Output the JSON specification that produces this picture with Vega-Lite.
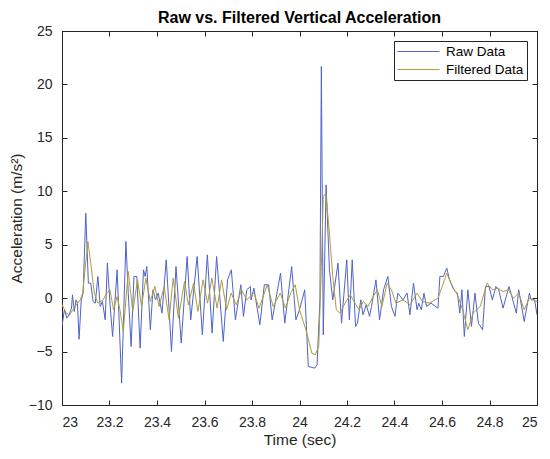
{
  "$schema": "https://vega.github.io/schema/vega-lite/v6.json",
  "autosize": "none",
  "width": 475,
  "height": 374,
  "padding": {"left": 62, "top": 31, "right": 13, "bottom": 54},
  "background": "white",
  "title": {
    "text": "Raw vs. Filtered Vertical Acceleration",
    "font": "Liberation Sans",
    "fontSize": 16,
    "fontWeight": "bold",
    "color": "#000000",
    "anchor": "middle",
    "offset": -2
  },
  "config": {
    "view": {"stroke": "#262626", "strokeWidth": 1},
    "axis": {
      "labelFont": "Liberation Sans",
      "titleFont": "Liberation Sans",
      "labelFontSize": 14,
      "titleFontSize": 15.5,
      "titleFontWeight": "normal",
      "labelColor": "#262626",
      "titleColor": "#262626",
      "domainColor": "#262626",
      "tickColor": "#262626",
      "grid": false,
      "tickSize": -5,
      "labelPadding": 15
    }
  },
  "data": {
    "values": [
      {"t": 23.000, "a": -2.65, "s": "Raw Data"},
      {"t": 23.010, "a": -1.09, "s": "Raw Data"},
      {"t": 23.021, "a": -1.87, "s": "Raw Data"},
      {"t": 23.030, "a": -1.56, "s": "Raw Data"},
      {"t": 23.040, "a": -0.94, "s": "Raw Data"},
      {"t": 23.044, "a": 0.31, "s": "Raw Data"},
      {"t": 23.052, "a": -1.25, "s": "Raw Data"},
      {"t": 23.059, "a": -0.16, "s": "Raw Data"},
      {"t": 23.065, "a": -0.47, "s": "Raw Data"},
      {"t": 23.072, "a": -3.84, "s": "Raw Data"},
      {"t": 23.081, "a": -0.16, "s": "Raw Data"},
      {"t": 23.089, "a": 0.47, "s": "Raw Data"},
      {"t": 23.100, "a": 7.95, "s": "Raw Data"},
      {"t": 23.111, "a": 1.40, "s": "Raw Data"},
      {"t": 23.121, "a": 1.40, "s": "Raw Data"},
      {"t": 23.131, "a": -0.31, "s": "Raw Data"},
      {"t": 23.140, "a": -0.47, "s": "Raw Data"},
      {"t": 23.151, "a": 2.03, "s": "Raw Data"},
      {"t": 23.161, "a": -0.78, "s": "Raw Data"},
      {"t": 23.170, "a": -0.31, "s": "Raw Data"},
      {"t": 23.182, "a": -2.03, "s": "Raw Data"},
      {"t": 23.191, "a": 3.28, "s": "Raw Data"},
      {"t": 23.202, "a": -0.47, "s": "Raw Data"},
      {"t": 23.213, "a": -3.59, "s": "Raw Data"},
      {"t": 23.232, "a": 2.65, "s": "Raw Data"},
      {"t": 23.251, "a": -7.95, "s": "Raw Data"},
      {"t": 23.269, "a": 5.30, "s": "Raw Data"},
      {"t": 23.279, "a": 0.47, "s": "Raw Data"},
      {"t": 23.291, "a": -4.52, "s": "Raw Data"},
      {"t": 23.303, "a": 2.03, "s": "Raw Data"},
      {"t": 23.315, "a": 2.03, "s": "Raw Data"},
      {"t": 23.329, "a": -4.68, "s": "Raw Data"},
      {"t": 23.343, "a": 2.65, "s": "Raw Data"},
      {"t": 23.350, "a": 2.03, "s": "Raw Data"},
      {"t": 23.357, "a": 2.96, "s": "Raw Data"},
      {"t": 23.372, "a": -2.96, "s": "Raw Data"},
      {"t": 23.383, "a": 0.78, "s": "Raw Data"},
      {"t": 23.394, "a": -0.16, "s": "Raw Data"},
      {"t": 23.405, "a": 0.47, "s": "Raw Data"},
      {"t": 23.421, "a": -1.40, "s": "Raw Data"},
      {"t": 23.439, "a": 3.59, "s": "Raw Data"},
      {"t": 23.461, "a": -4.99, "s": "Raw Data"},
      {"t": 23.480, "a": 2.96, "s": "Raw Data"},
      {"t": 23.502, "a": -4.21, "s": "Raw Data"},
      {"t": 23.527, "a": 3.90, "s": "Raw Data"},
      {"t": 23.542, "a": -2.03, "s": "Raw Data"},
      {"t": 23.569, "a": 3.90, "s": "Raw Data"},
      {"t": 23.591, "a": -3.43, "s": "Raw Data"},
      {"t": 23.612, "a": 4.05, "s": "Raw Data"},
      {"t": 23.632, "a": -3.27, "s": "Raw Data"},
      {"t": 23.651, "a": 3.90, "s": "Raw Data"},
      {"t": 23.679, "a": -4.05, "s": "Raw Data"},
      {"t": 23.697, "a": 1.71, "s": "Raw Data"},
      {"t": 23.713, "a": 2.65, "s": "Raw Data"},
      {"t": 23.730, "a": -2.03, "s": "Raw Data"},
      {"t": 23.753, "a": 1.25, "s": "Raw Data"},
      {"t": 23.764, "a": -1.71, "s": "Raw Data"},
      {"t": 23.778, "a": 0.78, "s": "Raw Data"},
      {"t": 23.793, "a": 1.09, "s": "Raw Data"},
      {"t": 23.796, "a": -0.16, "s": "Raw Data"},
      {"t": 23.808, "a": 0.94, "s": "Raw Data"},
      {"t": 23.833, "a": -2.49, "s": "Raw Data"},
      {"t": 23.852, "a": 1.25, "s": "Raw Data"},
      {"t": 23.870, "a": 1.25, "s": "Raw Data"},
      {"t": 23.885, "a": -2.03, "s": "Raw Data"},
      {"t": 23.920, "a": 2.34, "s": "Raw Data"},
      {"t": 23.938, "a": -2.34, "s": "Raw Data"},
      {"t": 23.967, "a": 2.96, "s": "Raw Data"},
      {"t": 23.985, "a": -2.03, "s": "Raw Data"},
      {"t": 24.000, "a": -1.09, "s": "Raw Data"},
      {"t": 24.022, "a": 0.78, "s": "Raw Data"},
      {"t": 24.037, "a": -6.39, "s": "Raw Data"},
      {"t": 24.064, "a": -6.55, "s": "Raw Data"},
      {"t": 24.074, "a": -6.24, "s": "Raw Data"},
      {"t": 24.086, "a": -0.16, "s": "Raw Data"},
      {"t": 24.092, "a": 21.68, "s": "Raw Data"},
      {"t": 24.100, "a": -3.43, "s": "Raw Data"},
      {"t": 24.112, "a": 10.60, "s": "Raw Data"},
      {"t": 24.126, "a": 2.65, "s": "Raw Data"},
      {"t": 24.140, "a": -0.16, "s": "Raw Data"},
      {"t": 24.162, "a": 3.28, "s": "Raw Data"},
      {"t": 24.177, "a": -2.34, "s": "Raw Data"},
      {"t": 24.199, "a": 3.59, "s": "Raw Data"},
      {"t": 24.210, "a": -2.03, "s": "Raw Data"},
      {"t": 24.222, "a": 3.59, "s": "Raw Data"},
      {"t": 24.236, "a": -2.65, "s": "Raw Data"},
      {"t": 24.244, "a": -2.34, "s": "Raw Data"},
      {"t": 24.258, "a": -0.16, "s": "Raw Data"},
      {"t": 24.267, "a": -1.56, "s": "Raw Data"},
      {"t": 24.281, "a": -0.62, "s": "Raw Data"},
      {"t": 24.295, "a": -1.71, "s": "Raw Data"},
      {"t": 24.303, "a": -0.78, "s": "Raw Data"},
      {"t": 24.322, "a": 1.71, "s": "Raw Data"},
      {"t": 24.337, "a": -2.03, "s": "Raw Data"},
      {"t": 24.354, "a": 0.78, "s": "Raw Data"},
      {"t": 24.372, "a": 2.03, "s": "Raw Data"},
      {"t": 24.387, "a": -0.78, "s": "Raw Data"},
      {"t": 24.402, "a": -1.71, "s": "Raw Data"},
      {"t": 24.414, "a": 0.47, "s": "Raw Data"},
      {"t": 24.436, "a": -0.16, "s": "Raw Data"},
      {"t": 24.453, "a": 0.47, "s": "Raw Data"},
      {"t": 24.465, "a": -1.56, "s": "Raw Data"},
      {"t": 24.480, "a": 1.40, "s": "Raw Data"},
      {"t": 24.495, "a": -1.09, "s": "Raw Data"},
      {"t": 24.502, "a": -0.47, "s": "Raw Data"},
      {"t": 24.513, "a": -1.09, "s": "Raw Data"},
      {"t": 24.524, "a": 0.47, "s": "Raw Data"},
      {"t": 24.535, "a": -0.78, "s": "Raw Data"},
      {"t": 24.554, "a": -0.47, "s": "Raw Data"},
      {"t": 24.583, "a": -0.94, "s": "Raw Data"},
      {"t": 24.591, "a": 2.03, "s": "Raw Data"},
      {"t": 24.606, "a": 2.03, "s": "Raw Data"},
      {"t": 24.620, "a": 2.81, "s": "Raw Data"},
      {"t": 24.632, "a": 1.71, "s": "Raw Data"},
      {"t": 24.650, "a": 0.78, "s": "Raw Data"},
      {"t": 24.665, "a": 0.47, "s": "Raw Data"},
      {"t": 24.675, "a": -1.40, "s": "Raw Data"},
      {"t": 24.684, "a": 0.78, "s": "Raw Data"},
      {"t": 24.694, "a": -3.59, "s": "Raw Data"},
      {"t": 24.709, "a": 0.78, "s": "Raw Data"},
      {"t": 24.724, "a": -2.65, "s": "Raw Data"},
      {"t": 24.739, "a": 0.47, "s": "Raw Data"},
      {"t": 24.753, "a": -2.34, "s": "Raw Data"},
      {"t": 24.771, "a": -2.96, "s": "Raw Data"},
      {"t": 24.783, "a": 1.09, "s": "Raw Data"},
      {"t": 24.798, "a": 1.09, "s": "Raw Data"},
      {"t": 24.812, "a": -0.16, "s": "Raw Data"},
      {"t": 24.827, "a": 1.09, "s": "Raw Data"},
      {"t": 24.839, "a": 0.78, "s": "Raw Data"},
      {"t": 24.857, "a": -0.94, "s": "Raw Data"},
      {"t": 24.882, "a": 1.09, "s": "Raw Data"},
      {"t": 24.894, "a": 0.16, "s": "Raw Data"},
      {"t": 24.913, "a": -1.40, "s": "Raw Data"},
      {"t": 24.923, "a": 0.78, "s": "Raw Data"},
      {"t": 24.946, "a": -2.18, "s": "Raw Data"},
      {"t": 24.968, "a": 0.47, "s": "Raw Data"},
      {"t": 24.975, "a": -0.16, "s": "Raw Data"},
      {"t": 24.990, "a": -0.16, "s": "Raw Data"},
      {"t": 25.000, "a": -1.56, "s": "Raw Data"},
      {"t": 23.000, "a": -0.62, "s": "Filtered Data"},
      {"t": 23.018, "a": -1.40, "s": "Filtered Data"},
      {"t": 23.032, "a": -1.56, "s": "Filtered Data"},
      {"t": 23.055, "a": -0.78, "s": "Filtered Data"},
      {"t": 23.077, "a": -0.16, "s": "Filtered Data"},
      {"t": 23.087, "a": 0.47, "s": "Filtered Data"},
      {"t": 23.109, "a": 5.30, "s": "Filtered Data"},
      {"t": 23.121, "a": 3.28, "s": "Filtered Data"},
      {"t": 23.136, "a": 0.47, "s": "Filtered Data"},
      {"t": 23.151, "a": -0.47, "s": "Filtered Data"},
      {"t": 23.173, "a": -0.16, "s": "Filtered Data"},
      {"t": 23.188, "a": 0.47, "s": "Filtered Data"},
      {"t": 23.202, "a": 0.78, "s": "Filtered Data"},
      {"t": 23.217, "a": -1.09, "s": "Filtered Data"},
      {"t": 23.232, "a": 0.16, "s": "Filtered Data"},
      {"t": 23.244, "a": -1.09, "s": "Filtered Data"},
      {"t": 23.258, "a": -3.12, "s": "Filtered Data"},
      {"t": 23.279, "a": 2.50, "s": "Filtered Data"},
      {"t": 23.298, "a": -1.25, "s": "Filtered Data"},
      {"t": 23.318, "a": 1.71, "s": "Filtered Data"},
      {"t": 23.335, "a": -0.78, "s": "Filtered Data"},
      {"t": 23.353, "a": 1.87, "s": "Filtered Data"},
      {"t": 23.372, "a": -0.31, "s": "Filtered Data"},
      {"t": 23.391, "a": 1.09, "s": "Filtered Data"},
      {"t": 23.409, "a": -0.78, "s": "Filtered Data"},
      {"t": 23.430, "a": 1.09, "s": "Filtered Data"},
      {"t": 23.451, "a": -2.03, "s": "Filtered Data"},
      {"t": 23.468, "a": 1.87, "s": "Filtered Data"},
      {"t": 23.490, "a": -1.87, "s": "Filtered Data"},
      {"t": 23.516, "a": 1.56, "s": "Filtered Data"},
      {"t": 23.532, "a": -0.62, "s": "Filtered Data"},
      {"t": 23.554, "a": 1.40, "s": "Filtered Data"},
      {"t": 23.572, "a": -1.25, "s": "Filtered Data"},
      {"t": 23.594, "a": 1.71, "s": "Filtered Data"},
      {"t": 23.613, "a": -0.47, "s": "Filtered Data"},
      {"t": 23.631, "a": 1.87, "s": "Filtered Data"},
      {"t": 23.653, "a": -0.94, "s": "Filtered Data"},
      {"t": 23.672, "a": 1.71, "s": "Filtered Data"},
      {"t": 23.693, "a": -1.09, "s": "Filtered Data"},
      {"t": 23.712, "a": 0.47, "s": "Filtered Data"},
      {"t": 23.734, "a": -0.62, "s": "Filtered Data"},
      {"t": 23.756, "a": 0.78, "s": "Filtered Data"},
      {"t": 23.778, "a": -0.16, "s": "Filtered Data"},
      {"t": 23.808, "a": 0.47, "s": "Filtered Data"},
      {"t": 23.830, "a": -0.94, "s": "Filtered Data"},
      {"t": 23.864, "a": 1.25, "s": "Filtered Data"},
      {"t": 23.889, "a": -0.78, "s": "Filtered Data"},
      {"t": 23.919, "a": 0.47, "s": "Filtered Data"},
      {"t": 23.941, "a": -0.94, "s": "Filtered Data"},
      {"t": 23.963, "a": 0.47, "s": "Filtered Data"},
      {"t": 23.982, "a": 1.25, "s": "Filtered Data"},
      {"t": 24.000, "a": -1.09, "s": "Filtered Data"},
      {"t": 24.027, "a": -2.96, "s": "Filtered Data"},
      {"t": 24.052, "a": -5.15, "s": "Filtered Data"},
      {"t": 24.066, "a": -5.30, "s": "Filtered Data"},
      {"t": 24.081, "a": -4.52, "s": "Filtered Data"},
      {"t": 24.092, "a": 2.96, "s": "Filtered Data"},
      {"t": 24.100, "a": 9.51, "s": "Filtered Data"},
      {"t": 24.111, "a": 9.83, "s": "Filtered Data"},
      {"t": 24.126, "a": 6.08, "s": "Filtered Data"},
      {"t": 24.140, "a": 2.03, "s": "Filtered Data"},
      {"t": 24.155, "a": -1.09, "s": "Filtered Data"},
      {"t": 24.170, "a": -1.40, "s": "Filtered Data"},
      {"t": 24.192, "a": -0.47, "s": "Filtered Data"},
      {"t": 24.214, "a": 0.31, "s": "Filtered Data"},
      {"t": 24.229, "a": -0.31, "s": "Filtered Data"},
      {"t": 24.251, "a": -1.09, "s": "Filtered Data"},
      {"t": 24.269, "a": -0.31, "s": "Filtered Data"},
      {"t": 24.288, "a": -0.78, "s": "Filtered Data"},
      {"t": 24.310, "a": 0.16, "s": "Filtered Data"},
      {"t": 24.328, "a": 0.78, "s": "Filtered Data"},
      {"t": 24.347, "a": -0.78, "s": "Filtered Data"},
      {"t": 24.369, "a": 1.40, "s": "Filtered Data"},
      {"t": 24.387, "a": 0.78, "s": "Filtered Data"},
      {"t": 24.406, "a": -0.47, "s": "Filtered Data"},
      {"t": 24.436, "a": -0.16, "s": "Filtered Data"},
      {"t": 24.465, "a": -0.62, "s": "Filtered Data"},
      {"t": 24.495, "a": 0.47, "s": "Filtered Data"},
      {"t": 24.517, "a": -0.31, "s": "Filtered Data"},
      {"t": 24.547, "a": -0.47, "s": "Filtered Data"},
      {"t": 24.583, "a": 0.00, "s": "Filtered Data"},
      {"t": 24.606, "a": 1.40, "s": "Filtered Data"},
      {"t": 24.620, "a": 2.34, "s": "Filtered Data"},
      {"t": 24.643, "a": 1.09, "s": "Filtered Data"},
      {"t": 24.665, "a": 0.31, "s": "Filtered Data"},
      {"t": 24.687, "a": -1.09, "s": "Filtered Data"},
      {"t": 24.709, "a": -2.96, "s": "Filtered Data"},
      {"t": 24.731, "a": -1.40, "s": "Filtered Data"},
      {"t": 24.761, "a": -0.78, "s": "Filtered Data"},
      {"t": 24.790, "a": 1.40, "s": "Filtered Data"},
      {"t": 24.812, "a": 0.78, "s": "Filtered Data"},
      {"t": 24.834, "a": 0.94, "s": "Filtered Data"},
      {"t": 24.857, "a": 0.62, "s": "Filtered Data"},
      {"t": 24.879, "a": 0.78, "s": "Filtered Data"},
      {"t": 24.901, "a": 0.00, "s": "Filtered Data"},
      {"t": 24.923, "a": 0.47, "s": "Filtered Data"},
      {"t": 24.946, "a": -1.09, "s": "Filtered Data"},
      {"t": 24.968, "a": 0.00, "s": "Filtered Data"},
      {"t": 25.000, "a": -0.31, "s": "Filtered Data"}
    ]
  },
  "layer": [
    {
      "mark": {"type": "line", "strokeWidth": 1, "clip": true},
      "encoding": {
        "x": {
          "field": "t",
          "type": "quantitative",
          "scale": {"domain": [23, 25], "nice": false, "zero": false},
          "axis": {
            "title": "Time (sec)",
            "values": [23, 23.2, 23.4, 23.6, 23.8, 24, 24.2, 24.4, 24.6, 24.8, 25],
            "format": "~g",
            "titlePadding": 3
          }
        },
        "y": {
          "field": "a",
          "type": "quantitative",
          "scale": {"domain": [-10, 25], "nice": false, "zero": false},
          "axis": {
            "title": "Acceleration (m/s²)",
            "values": [-10, -5, 0, 5, 10, 15, 20, 25],
            "titlePadding": 4
          }
        },
        "color": {
          "field": "s",
          "type": "nominal",
          "scale": {
            "domain": ["Raw Data", "Filtered Data"],
            "range": ["#4f63c8", "#ad9d3a"]
          },
          "legend": {
            "title": null,
            "orient": "top-right",
            "offset": 10,
            "strokeColor": "#262626",
            "fillColor": "white",
            "padding": 3,
            "symbolType": "stroke",
            "symbolSize": 1764,
            "symbolStrokeWidth": 1,
            "clipHeight": 15,
            "labelFont": "Liberation Sans",
            "labelFontSize": 13.5,
            "labelColor": "#000000",
            "labelOffset": 6,
            "rowPadding": 3
          }
        }
      }
    },
    {
      "mark": {"type": "line", "opacity": 0},
      "encoding": {
        "x": {
          "field": "t",
          "type": "quantitative",
          "axis": {
            "orient": "top",
            "title": null,
            "labels": false,
            "values": [23, 23.2, 23.4, 23.6, 23.8, 24, 24.2, 24.4, 24.6, 24.8, 25]
          }
        },
        "y": {
          "field": "a",
          "type": "quantitative",
          "axis": {
            "orient": "right",
            "title": null,
            "labels": false,
            "values": [-10, -5, 0, 5, 10, 15, 20, 25]
          }
        },
        "detail": {"field": "s", "type": "nominal"}
      }
    }
  ],
  "resolve": {"axis": {"x": "independent", "y": "independent"}}
}
